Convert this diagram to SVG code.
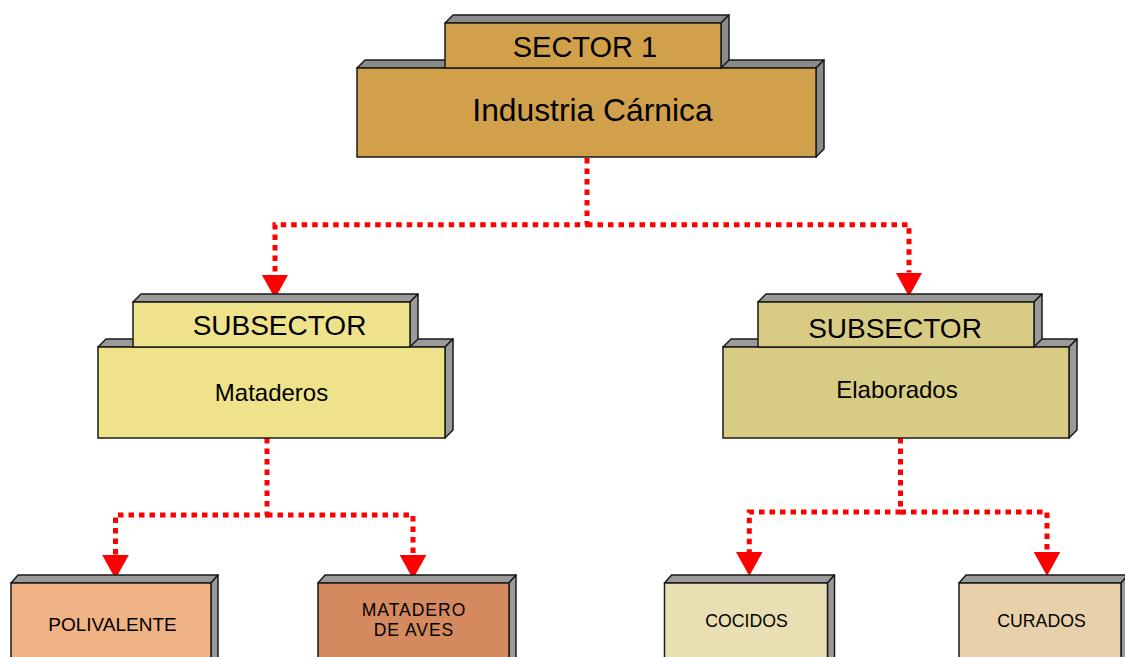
<svg xmlns="http://www.w3.org/2000/svg" width="1125" height="657" viewBox="0 0 1125 657">
<defs>
<style>
.face{fill:#8a8a8a;stroke:#1a1a1a;stroke-width:1.5;stroke-linejoin:round}
.face2{fill:#9a9a9a;stroke:#1a1a1a;stroke-width:1.5;stroke-linejoin:round}
.front{stroke:#1a1a1a;stroke-width:1.5}
.lbl{font-family:"Liberation Sans",Arial,sans-serif;fill:#000;text-anchor:middle}
.conn{fill:none;stroke:#ff0000;stroke-width:5;stroke-dasharray:5.5 5}
</style>
<marker id="arr" viewBox="0 -14 24 28" markerUnits="userSpaceOnUse" markerWidth="24" markerHeight="28" refX="0" refY="0" orient="auto">
<path d="M0,-13.3 L24,0 L0,13.3 Z" fill="#ff0000"/>
</marker>
</defs>
<rect width="1125" height="657" fill="#fff"/>

<g id="connectors">
<path class="conn" d="M587,158 V224.7 H275 V274.5" marker-end="url(#arr)"/>
<path class="conn" d="M587,224.7 H909 V272.5" marker-end="url(#arr)"/>
<path class="conn" d="M267,438 V515 H115.5 V555" marker-end="url(#arr)"/>
<path class="conn" d="M267,515 H413 V555" marker-end="url(#arr)"/>
<path class="conn" d="M900.5,438 V512 H749.3 V552" marker-end="url(#arr)"/>
<path class="conn" d="M900.5,512 H1047 V552" marker-end="url(#arr)"/>
</g>

<g id="sector">
<polygon class="face" points="357,68 365,60 824,60 816,68"/>
<polygon class="face" points="816,68 824,60 824,149 816,157"/>
<rect class="front" x="357" y="68" width="459" height="89" fill="#d1a04b"/>
<polygon class="face" points="445,23 453,15 729,15 721,23"/>
<polygon class="face" points="721,23 729,15 729,60 721,68"/>
<rect class="front" x="445" y="23" width="276" height="45" fill="#d1a04b"/>
<text class="lbl" x="585" y="57" font-size="29">SECTOR 1</text>
<text class="lbl" x="592.5" y="121" font-size="31.8">Industria Cárnica</text>
</g>

<g id="mataderos">
<polygon class="face2" points="98,347 106,339 453,339 445,347"/>
<polygon class="face2" points="445,347 453,339 453,430 445,438"/>
<rect class="front" x="98" y="347" width="347" height="91" fill="#eee38a"/>
<polygon class="face2" points="133,302 141,294 418,294 410,302"/>
<polygon class="face2" points="410,302 418,294 418,339 410,347"/>
<rect class="front" x="133" y="302" width="277" height="45" fill="#eee38a"/>
<text class="lbl" x="279.5" y="335" font-size="28">SUBSECTOR</text>
<text class="lbl" x="271.5" y="401" font-size="24">Mataderos</text>
</g>

<g id="elaborados">
<polygon class="face2" points="723,347 731,339 1077,339 1069,347"/>
<polygon class="face2" points="1069,347 1077,339 1077,430 1069,438"/>
<rect class="front" x="723" y="347" width="346" height="91" fill="#d8cc85"/>
<polygon class="face2" points="758,302 766,294 1042,294 1034,302"/>
<polygon class="face2" points="1034,302 1042,294 1042,339 1034,347"/>
<rect class="front" x="758" y="302" width="276" height="45" fill="#d8cc85"/>
<text class="lbl" x="895" y="338" font-size="28">SUBSECTOR</text>
<text class="lbl" x="897" y="398" font-size="24">Elaborados</text>
</g>

<g id="polivalente">
<polygon class="face2" points="11,583 18,575 218,575 211,583"/>
<polygon class="face2" points="211,583 218,575 218,680 211,688"/>
<rect class="front" x="11" y="583" width="200" height="105" fill="#f0b386"/>
<text class="lbl" x="112.5" y="631" font-size="19">POLIVALENTE</text>
</g>

<g id="matadero-aves">
<polygon class="face2" points="318,583 325,575 516,575 509,583"/>
<polygon class="face2" points="509,583 516,575 516,680 509,688"/>
<rect class="front" x="318" y="583" width="191" height="105" fill="#d4895e"/>
<text class="lbl" x="414" y="616" font-size="17.5" letter-spacing="1">MATADERO</text>
<text class="lbl" x="414" y="636" font-size="17.5" letter-spacing="1">DE AVES</text>
</g>

<g id="cocidos">
<polygon class="face2" points="664.5,583 671.5,575 834.5,575 827.5,583"/>
<polygon class="face2" points="827.5,583 834.5,575 834.5,680 827.5,688"/>
<rect class="front" x="664.5" y="583" width="163" height="105" fill="#e8e0b2"/>
<text class="lbl" x="746.5" y="627" font-size="17.7">COCIDOS</text>
</g>

<g id="curados">
<polygon class="face2" points="959,583 966,575 1128,575 1121,583"/>
<polygon class="face2" points="1121,583 1128,575 1128,680 1121,688"/>
<rect class="front" x="959" y="583" width="162" height="105" fill="#e8d0aa"/>
<text class="lbl" x="1041.5" y="627" font-size="17.7">CURADOS</text>
</g>
</svg>
